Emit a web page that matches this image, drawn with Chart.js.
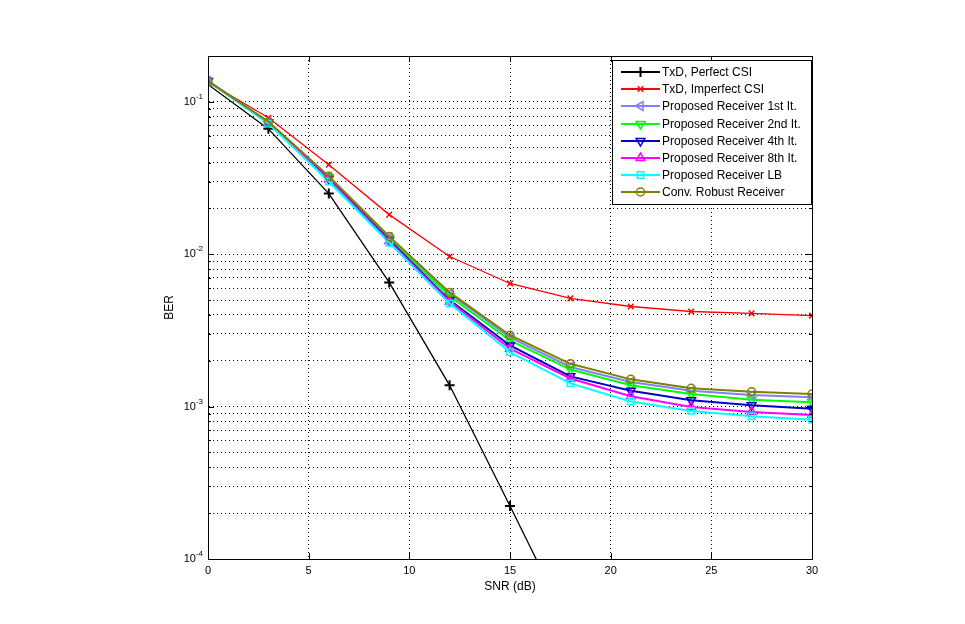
<!DOCTYPE html>
<html>
<head>
<meta charset="utf-8">
<title>BER vs SNR</title>
<script src="https://cdn.jsdelivr.net/npm/chart.js@4.4.1/dist/chart.umd.min.js"></script>
<style>
  html, body { margin: 0; padding: 0; background: #fff; }
  #wrap { width: 965px; height: 624px; }
</style>
</head>
<body>
<div id="wrap"><canvas id="berChart" width="965" height="624"></canvas></div>
<script>
const snr = [0, 3, 6, 9, 12, 15, 18, 21, 24, 27, 30];

// BER values
const txdPerfect   = [0.130, 0.0665, 0.0250, 0.00653, 0.00138, 0.000223, 0.000035];
const txdImperfect = [0.135, 0.0786, 0.0387, 0.0182, 0.00966, 0.00643, 0.00513, 0.00454, 0.00421, 0.00409, 0.00396];
const prop1st      = [0.137, 0.0740, 0.0322, 0.0129, 0.00550, 0.00285, 0.00182, 0.00145, 0.00127, 0.00119, 0.00115];
const prop2nd      = [0.137, 0.0735, 0.0320, 0.0127, 0.00530, 0.00272, 0.00175, 0.00138, 0.00121, 0.00111, 0.00107];
const prop4th      = [0.137, 0.0730, 0.0312, 0.0124, 0.00500, 0.00252, 0.00158, 0.00127, 0.00110, 0.00102, 0.00097];
const prop8th      = [0.137, 0.0725, 0.0310, 0.0122, 0.00490, 0.00240, 0.00153, 0.00117, 0.000995, 0.000922, 0.00088];
const propLB       = [0.137, 0.0720, 0.0300, 0.0119, 0.00475, 0.00228, 0.00142, 0.00108, 0.000937, 0.000865, 0.00082];
const convRobust   = [0.137, 0.0740, 0.0325, 0.0131, 0.00562, 0.00294, 0.00191, 0.00151, 0.00132, 0.00125, 0.00121];

const seriesLabels = [
  'TxD, Perfect CSI',
  'TxD, Imperfect CSI',
  'Proposed Receiver 1st It.',
  'Proposed Receiver 2nd It.',
  'Proposed Receiver 4th It.',
  'Proposed Receiver 8th It.',
  'Proposed Receiver LB',
  'Conv. Robust Receiver'
];

const xTicks = [0, 5, 10, 15, 20, 25, 30];
const yDecades = [1e-4, 1e-3, 1e-2, 1e-1];
const yDecadeExp = ['-4', '-3', '-2', '-1'];
const yMin = 1e-4, yMax = 0.2;

// minor grid lines at 2..9 of each decade, like MATLAB's log grid
const yTicks = [];
yDecades.forEach(d => {
  for (let m = 1; m <= 9; m++) {
    const v = +(m * d).toPrecision(3);
    if (v <= yMax) yTicks.push(v);
  }
});

const FONT = '"Liberation Sans", Arial, sans-serif';

function series(values) {
  return values.map((v, i) => ({ x: snr[i], y: v }));
}

const styles = [
  { color: '#000000', width: 1.3, style: 'cross',    rot: 0,   r: 5,   bw: 2 },
  { color: '#ff0000', width: 1.3, style: 'crossRot', rot: 0,   r: 4,   bw: 1.5 },
  { color: '#8080ff', width: 2,   style: 'triangle', rot: -90, r: 5,   bw: 1.5 },
  { color: '#00ff00', width: 2,   style: 'triangle', rot: 180, r: 5,   bw: 1.5 },
  { color: '#0000cc', width: 2,   style: 'triangle', rot: 180, r: 5,   bw: 1.5 },
  { color: '#ff00ff', width: 2,   style: 'triangle', rot: 0,   r: 5,   bw: 1.5 },
  { color: '#00ffff', width: 2,   style: 'rect',     rot: 0,   r: 4.5, bw: 1.5 },
  { color: '#808000', width: 2,   style: 'circle',   rot: 0,   r: 4,   bw: 1.5 }
];

const allData = [txdPerfect, txdImperfect, prop1st, prop2nd, prop4th, prop8th, propLB, convRobust];

const datasets = allData.map((vals, i) => ({
  label: seriesLabels[i],
  data: series(vals),
  borderColor: styles[i].color,
  borderWidth: styles[i].width,
  backgroundColor: 'rgba(0,0,0,0)',
  pointStyle: styles[i].style,
  pointRotation: styles[i].rot,
  pointRadius: styles[i].r,
  pointBorderWidth: styles[i].bw,
  pointBorderColor: styles[i].color,
  pointBackgroundColor: 'rgba(0,0,0,0)',
  tension: 0,
  order: 20 - i
}));

function drawMarker(ctx, s, x, y) {
  if (Chart.helpers && Chart.helpers.drawPoint) {
    Chart.helpers.drawPoint(ctx, { pointStyle: s.style, rotation: s.rot, radius: s.r, borderWidth: s.bw }, x, y);
  }
}

const matlabAxes = {
  id: 'matlabAxes',
  afterDraw(chart) {
    const ctx = chart.ctx;
    const a = chart.chartArea;
    const xs = chart.scales.x, ys = chart.scales.y;
    ctx.save();

    // full box
    ctx.strokeStyle = '#000';
    ctx.lineWidth = 1;
    ctx.setLineDash([]);
    ctx.strokeRect(Math.round(a.left) + 0.5, Math.round(a.top) + 0.5,
                   Math.round(a.right - a.left), Math.round(a.bottom - a.top));

    // inward ticks
    ctx.beginPath();
    xTicks.forEach(v => {
      const px = Math.round(xs.getPixelForValue(v)) + 0.5;
      ctx.moveTo(px, a.bottom); ctx.lineTo(px, a.bottom - 6);
      ctx.moveTo(px, a.top); ctx.lineTo(px, a.top + 6);
    });
    yTicks.forEach(v => {
      const major = yDecades.includes(v);
      const len = major ? 6 : 3;
      const py = Math.round(ys.getPixelForValue(v)) + 0.5;
      ctx.moveTo(a.left, py); ctx.lineTo(a.left + len, py);
      ctx.moveTo(a.right, py); ctx.lineTo(a.right - len, py);
    });
    ctx.stroke();

    // y tick labels 10^n
    ctx.fillStyle = '#000';
    ctx.textBaseline = 'middle';
    yDecades.forEach((v, i) => {
      const py = ys.getPixelForValue(v);
      const expRight = a.left - 5;
      ctx.font = '8px ' + FONT;
      ctx.textAlign = 'right';
      const ew = ctx.measureText(yDecadeExp[i]).width;
      ctx.fillText(yDecadeExp[i], expRight, py - 5);
      ctx.font = '11px ' + FONT;
      ctx.fillText('10', expRight - ew, py);
    });

    // legend
    const lx = 612, ly = 60, lw = 199, lh = 144;
    ctx.fillStyle = '#fff';
    ctx.fillRect(lx, ly, lw, lh);
    ctx.strokeStyle = '#000';
    ctx.lineWidth = 1;
    ctx.strokeRect(lx + 0.5, ly + 0.5, lw, lh);
    chart.data.datasets.forEach((ds, i) => {
      const y = Math.round(72 + i * 17.2);
      const s = styles[i];
      ctx.strokeStyle = s.color;
      ctx.lineWidth = 2;
      ctx.beginPath();
      ctx.moveTo(621, y); ctx.lineTo(660, y);
      ctx.stroke();
      ctx.fillStyle = 'rgba(0,0,0,0)';
      ctx.lineWidth = s.bw;
      drawMarker(ctx, s, 640.5, y);
      ctx.fillStyle = '#000';
      ctx.font = '12px ' + FONT;
      ctx.textAlign = 'left';
      ctx.textBaseline = 'middle';
      ctx.fillText(ds.label, 662, y + 0.5);
    });
    ctx.restore();
  }
};

new Chart(document.getElementById('berChart'), {
  type: 'line',
  data: { datasets: datasets },
  plugins: [matlabAxes],
  options: {
    responsive: false,
    animation: false,
    devicePixelRatio: 1,
    layout: { padding: { left: 0, top: 56, right: 153, bottom: 0 } },
    plugins: { legend: { display: false }, tooltip: { enabled: false } },
    scales: {
      x: {
        type: 'linear',
        min: 0,
        max: 30,
        afterBuildTicks: s => { s.ticks = xTicks.map(v => ({ value: v })); },
        afterFit: s => { s.height = 65; },
        ticks: { color: '#000', font: { family: FONT, size: 11 }, padding: 5, maxRotation: 0 },
        grid: { color: '#000', lineWidth: 1, drawTicks: false },
        border: { color: '#000', dash: [1, 3] },
        title: { display: true, text: 'SNR (dB)', color: '#000', font: { family: FONT, size: 12 }, padding: { top: 0, bottom: 30 } }
      },
      y: {
        type: 'logarithmic',
        min: yMin,
        max: yMax,
        afterBuildTicks: s => { s.ticks = yTicks.map(v => ({ value: v })); },
        afterFit: s => { s.width = 208; },
        ticks: { callback: () => '', font: { family: FONT, size: 11 } },
        grid: { color: '#000', lineWidth: 1, drawTicks: false },
        border: { color: '#000', dash: [1, 3] },
        title: { display: true, text: 'BER', color: '#000', font: { family: FONT, size: 12 }, padding: { top: 162, bottom: 0 } }
      }
    }
  }
});
</script>
</body>
</html>
